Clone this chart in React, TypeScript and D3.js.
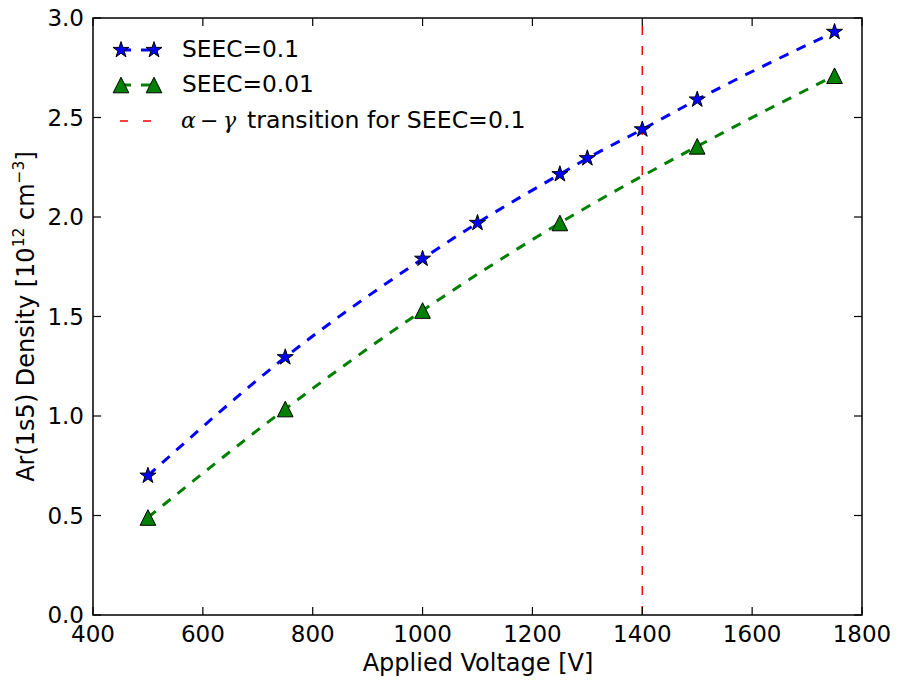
import React from "react";
import * as d3 from "d3";

const blueX = [500, 750, 1000, 1100, 1250, 1300, 1400, 1500, 1750];
const blueY = [0.70, 1.295, 1.79, 1.97, 2.215, 2.295, 2.44, 2.59, 2.93];
const greenX = [500, 750, 1000, 1250, 1500, 1750];
const greenY = [0.49, 1.035, 1.53, 1.97, 2.355, 2.71];
const transitionX = [1400];
const xTicks = [400, 600, 800, 1000, 1200, 1400, 1600, 1800];
const yTicks = [0, 0.5, 1.0, 1.5, 2.0, 2.5, 3.0];
const legendLabels = ["SEEC=0.1", "SEEC=0.01", "transition for SEEC=0.1"];

const W = 898;
const H = 681;
const L = 93, R = 862, T = 18, B = 615;
const FONT = "DejaVu Sans";

export default function App() {
  const x = d3.scaleLinear().domain([400, 1800]).range([L, R]);
  const y = d3.scaleLinear().domain([0, 3]).range([B, T]);
  const line = d3
    .line<[number, number]>()
    .x((d) => x(d[0]))
    .y((d) => y(d[1]))
    .curve(d3.curveMonotoneX);
  const blueData = blueX.map((v, i) => [v, blueY[i]] as [number, number]);
  const greenData = greenX.map((v, i) => [v, greenY[i]] as [number, number]);
  const star = d3.symbol(d3.symbolStar, 80)() as string;
  const tri = "M0,-7.8L7.8,7.8L-7.8,7.8Z";
  const tickLen = 8;

  return (
    <svg
      width={W}
      height={H}
      style={{ position: "absolute", left: 0, top: 0, background: "#fff" }}
      fontFamily={FONT}
    >
      <rect x={0} y={0} width={W} height={H} fill="#fff" />
      {/* data lines */}
      <path d={line(blueData) as string} fill="none" stroke="#0000ff" strokeWidth={3} strokeDasharray="10,9" />
      <path d={line(greenData) as string} fill="none" stroke="#008000" strokeWidth={3} strokeDasharray="10,9" />
      {transitionX.map((v) => (
        <line key={v} x1={x(v)} x2={x(v)} y1={B} y2={T} stroke="#ff0000" strokeWidth={1.5} strokeDasharray="9,11" />
      ))}
      {/* markers */}
      {blueData.map((d, i) => (
        <path key={"s" + i} d={star} transform={`translate(${x(d[0])},${y(d[1])})`} fill="#0000ff" stroke="#000" strokeWidth={1} />
      ))}
      {greenData.map((d, i) => (
        <path key={"t" + i} d={tri} transform={`translate(${x(d[0])},${y(d[1])})`} fill="#008000" stroke="#000" strokeWidth={1} />
      ))}
      {/* frame */}
      <rect x={L} y={T} width={R - L} height={B - T} fill="none" stroke="#000" strokeWidth={1.5} />
      {/* x ticks */}
      {xTicks.map((t) => (
        <g key={"xt" + t}>
          <line x1={x(t)} x2={x(t)} y1={B} y2={B - tickLen} stroke="#000" strokeWidth={1.2} />
          <line x1={x(t)} x2={x(t)} y1={T} y2={T + tickLen} stroke="#000" strokeWidth={1.2} />
          <text x={x(t)} y={B + 27} textAnchor="middle" fontSize={23} fill="#000">
            {t}
          </text>
        </g>
      ))}
      {yTicks.map((t) => (
        <g key={"yt" + t}>
          <line x1={L} x2={L + tickLen} y1={y(t)} y2={y(t)} stroke="#000" strokeWidth={1.2} />
          <line x1={R} x2={R - tickLen} y1={y(t)} y2={y(t)} stroke="#000" strokeWidth={1.2} />
          <text x={L - 9} y={y(t) + 8} textAnchor="end" fontSize={23} fill="#000">
            {d3.format(".1f")(t)}
          </text>
        </g>
      ))}
      {/* axis labels */}
      <text x={(L + R) / 2 + 0.5} y={671} textAnchor="middle" fontSize={24} fill="#000">
        Applied Voltage [V]
      </text>
      <text transform={`translate(34,${(T + B) / 2}) rotate(-90)`} textAnchor="middle" fontSize={24} fill="#000">
        Ar(1s5) Density [10
        <tspan fontSize={15.5} dy={-10}>12</tspan>
        <tspan dy={10}> cm</tspan>
        <tspan fontSize={15.5} dy={-10}>−3</tspan>
        <tspan dy={10}>]</tspan>
      </text>
      {/* legend */}
      <g>
        <line x1={121} x2={154} y1={50} y2={50} stroke="#0000ff" strokeWidth={3} strokeDasharray="10,10" />
        <path d={star} transform="translate(121,50)" fill="#0000ff" stroke="#000" strokeWidth={1} />
        <path d={star} transform="translate(154,50)" fill="#0000ff" stroke="#000" strokeWidth={1} />
        <text x={182} y={57} fontSize={23.3} fill="#000">{legendLabels[0]}</text>

        <line x1={121} x2={154} y1={85} y2={85} stroke="#008000" strokeWidth={3} strokeDasharray="10,10" />
        <path d={tri} transform="translate(121,85)" fill="#008000" stroke="#000" strokeWidth={1} />
        <path d={tri} transform="translate(154,85)" fill="#008000" stroke="#000" strokeWidth={1} />
        <text x={182} y={92} fontSize={23.3} fill="#000">{legendLabels[1]}</text>

        <line x1={120} x2={154} y1={121} y2={121} stroke="#ff0000" strokeWidth={1.5} strokeDasharray="8,15" />
        <text x={181} y={128} fontSize={22} fill="#000" fontFamily="DejaVu Serif" fontStyle="italic">α</text>
        <text x={200} y={128} fontSize={22} fill="#000">−</text>
        <text x={223} y={128} fontSize={22} fill="#000" fontFamily="DejaVu Serif" fontStyle="italic">γ</text>
        <text x={247} y={128} fontSize={23.6} fill="#000">{legendLabels[2]}</text>
      </g>
    </svg>
  );
}
